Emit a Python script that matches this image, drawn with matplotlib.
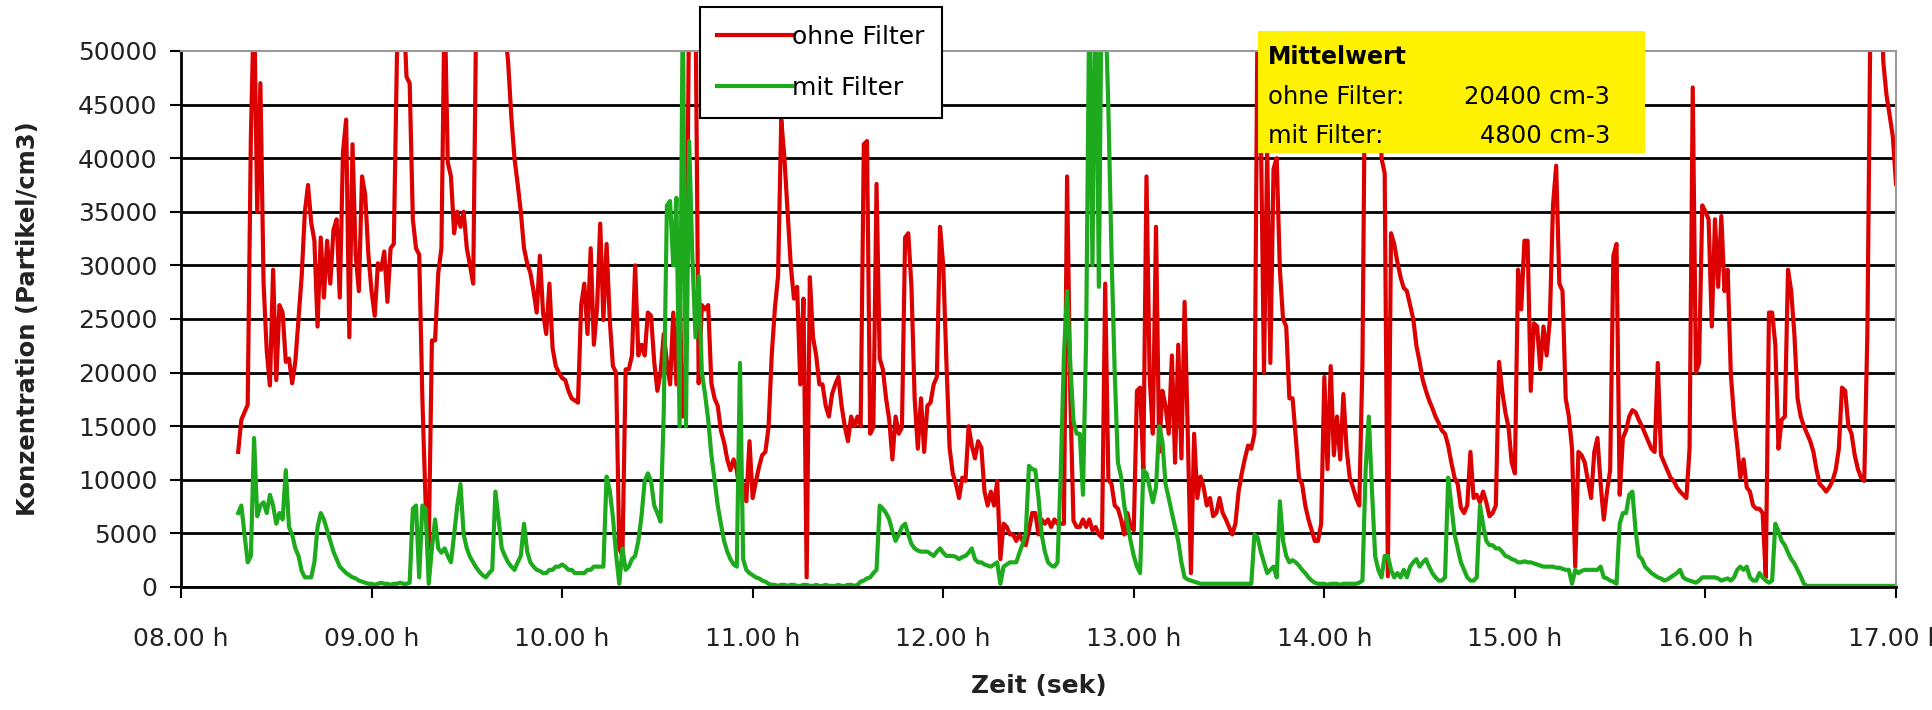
import numpy as np
import matplotlib.pyplot as plt
from matplotlib.patches import Rectangle

# one reading per minute, first reading at 08:18 (minutes after 08:00)
start_min = 18

# Konzentration in 1000 Partikel/cm3 (values above 50 run off the chart)
ohne_filter = [
    12.6, 15.6, 16.3, 17.0, 42, 55, 35, 47, 28.3, 22,
    18.8, 29.6, 19.3, 26.3, 25.6, 21, 21.3, 19, 21, 25,
    29, 35, 37.5, 34, 32.3, 24.3, 32.6, 27, 32.3, 28.3,
    33.3, 34.3, 27, 40.6, 43.6, 23.3, 41.3, 31, 27.6, 38.3,
    36.6, 31, 27.6, 25.3, 30.2, 29.6, 31.3, 26.6, 31.6, 32,
    49.6, 55, 55, 47.6, 47, 34.3, 31.6, 31, 17.6, 8,
    3.6, 23, 23, 29.3, 31.6, 55, 39.6, 38.3, 33, 35,
    33.6, 35, 31.6, 30, 28.3, 55, 60, 60, 60, 60,
    60, 60, 60, 58, 52, 49, 43.9, 40, 37.6, 35,
    31.6, 30.2, 29.3, 27.6, 25.6, 30.9, 25.6, 23.6, 28.3, 22.3,
    20.6, 20, 19.5, 19.3, 18.3, 17.6, 17.4, 17.2, 26.3, 28.3,
    23.6, 31.6, 22.6, 26, 33.9, 24.9, 32, 24.9, 20.6, 20,
    3.6, 2.9, 20.3, 20.3, 21.6, 30, 21.6, 22.6, 21.6, 25.6,
    25.3, 21, 18.3, 20, 23.6, 21, 18.9, 25.6, 18.9, 27.6,
    15.9, 21, 55, 60, 55, 19, 26.3, 25.9, 26.3, 19,
    17.6, 16.9, 14.6, 13.5, 11.9, 10.9, 11.9, 10.9, 8.6, 9.6,
    8, 13.6, 8.3, 9.8, 11.2, 12.3, 12.6, 14.9, 21.6, 26,
    29, 43.6, 40, 35, 30, 26.9, 28, 18.9, 26.9, 0.9,
    28.9, 23.3, 21.6, 18.9, 18.9, 16.9, 15.9, 18, 18.9, 19.6,
    16.9, 15, 13.6, 15.9, 15, 15.9, 15, 41.3, 41.6, 14.3,
    14.9, 37.6, 21.3, 20.3, 17.6, 15.6, 11.9, 15.9, 14.3, 14.9,
    32.6, 33, 28, 17.6, 12.9, 17.6, 12.6, 16.9, 17.2, 18.9,
    19.6, 33.6, 30, 21, 13, 10.6, 9.6, 8.3, 10.2, 9.9,
    15, 13.2, 12, 13.6, 13, 8.9, 7.6, 8.9, 7.6, 9.9,
    2.6, 5.9, 5.6, 4.9, 4.9, 4.3, 4.9, 4.3, 3.9, 5.3,
    6.9, 6.9, 4.9, 6.3, 5.9, 6.3, 5.6, 6.3, 5.9, 5.9,
    5.9, 38.3, 18, 6.2, 5.6, 5.6, 6.3, 5.6, 6.3, 5.3,
    5.6, 4.9, 4.6, 28.3, 10, 9.6, 7.6, 7.3, 6.3, 4.9,
    6.9, 5.6, 5.3, 18.3, 18.6, 11, 38.3, 19.6, 14.3, 33.6,
    12.6, 18.3, 16.9, 14.3, 21.6, 11.6, 22.6, 12, 26.6, 14.3,
    1.3, 14.3, 8.3, 10.3, 9.3, 7.6, 8.3, 6.6, 6.9, 8.3,
    6.9, 6.3, 5.6, 4.9, 5.9, 8.9, 10.6, 12, 13.2, 12.9,
    14.3, 55, 43, 20, 41, 20.9, 39, 40, 29.6, 25,
    24.3, 17.6, 17.6, 14, 10.2, 9.6, 7.6, 6.3, 5.3, 4.3,
    4.3, 5.9, 19.6, 11, 20.6, 12.3, 15.9, 11.9, 18, 12.9,
    10.2, 9.3, 8.3, 7.6, 20.9, 55, 60, 60, 60, 60,
    40, 38.6, 1.0, 33, 32, 30.3, 28.9, 27.9, 27.6, 26.3,
    25, 22.5, 21, 19.3, 18.3, 17.4, 16.7, 15.9, 15.3, 14.6,
    14.3, 13.2, 11.6, 10.2, 9.6, 7.4, 6.9, 7.6, 12.6, 8.3,
    8.6, 7.9, 8.9, 7.9, 6.6, 6.9, 7.6, 21, 18.3, 16.3,
    14.9, 11.6, 10.6, 29.6, 25.9, 32.3, 32.3, 18.3, 24.6, 24.3,
    20.3, 24.3, 21.6, 24.9, 35.6, 39.3, 28.3, 27.6, 17.6, 15.9,
    12.9, 1.9, 12.6, 12.3, 11.6, 9.9, 8.3, 12.6, 13.9, 9.6,
    6.3, 8.9, 10.9, 30.9, 32, 8.6, 13.9, 14.6, 15.9, 16.5,
    16.3, 15.6, 15, 14.3, 13.6, 12.9, 12.6, 20.9, 12.3, 11.6,
    10.9, 10.2, 9.9, 9.3, 8.9, 8.6, 8.3, 12.9, 46.6, 20,
    20.9, 35.6, 35, 34.3, 24.3, 34.3, 28, 34.6, 27.6, 29.6,
    19.8, 15.9, 13.2, 10.2, 11.9, 9.3, 8.9, 7.6, 7.3, 7.3,
    6.9, 0.9, 25.6, 25.6, 22.6, 12.9, 15.6, 15.9, 29.6, 27.6,
    23.6, 17.6, 15.9, 15, 14.3, 13.6, 12.6, 10.9, 9.6, 9.3,
    8.9, 9.3, 9.9, 10.9, 12.9, 18.6, 18.3, 15, 14.3, 12.3,
    11, 10.2, 9.9, 23.9, 55, 60, 60, 60, 49, 45.9,
    44, 42, 37.6,
]

mit_filter = [
    6.9, 7.6, 4.9, 2.3, 2.9, 13.9, 6.6, 7.6, 7.9, 6.9,
    8.6, 7.6, 5.9, 6.9, 6.3, 10.9, 5.6, 4.9, 3.6, 2.9,
    1.5, 0.9, 0.9, 0.9, 2.3, 5.6, 6.9, 6.3, 5.3, 4.3,
    3.3, 2.6, 1.9, 1.6, 1.3, 1.1, 0.9, 0.8, 0.6, 0.5,
    0.4, 0.3, 0.3, 0.2, 0.3, 0.4, 0.3, 0.3, 0.2, 0.3,
    0.3, 0.4, 0.3, 0.3, 0.4, 7.3, 7.6, 0.9, 7.6, 7.3,
    0.3, 3.6, 6.3, 3.6, 3.2, 3.6, 2.9, 2.3, 4.9, 7.6,
    9.6, 4.9, 3.6, 2.8, 2.3, 1.8, 1.4, 1.1, 0.9, 1.3,
    1.6, 8.9, 6.3, 3.6, 2.9, 2.3, 1.9, 1.6, 2.3, 2.9,
    5.9, 3.3, 2.3, 1.9, 1.6, 1.5, 1.3, 1.3, 1.6, 1.6,
    1.9, 1.9, 2.1, 1.9, 1.6, 1.6, 1.3, 1.3, 1.3, 1.3,
    1.6, 1.6, 1.9, 1.9, 1.9, 1.9, 10.3, 9, 6.5, 3,
    0.3, 3.6, 1.6, 1.9, 2.6, 2.9, 4.3, 6.6, 9.9, 10.6,
    9.9, 7.6, 6.9, 6.1, 16.3, 35.6, 36, 30, 36.3, 15,
    55, 15, 41.6, 30.9, 23.3, 29, 20, 18, 15.6, 12.3,
    10, 7.6, 5.9, 4.3, 3.3, 2.6, 2.1, 1.9, 20.9, 2.6,
    1.6, 1.3, 1.1, 0.9, 0.8, 0.6, 0.5, 0.3, 0.2, 0.2,
    0.1, 0.2, 0.2, 0.1, 0.2, 0.2, 0.1, 0.1, 0.2, 0.2,
    0.1, 0.1, 0.2, 0.1, 0.1, 0.2, 0.1, 0.1, 0.1, 0.2,
    0.1, 0.1, 0.2, 0.2, 0.1, 0.2, 0.5, 0.6, 0.8, 0.9,
    1.3, 1.6, 7.6, 7.3, 6.9, 6.3, 5.2, 4.3, 4.9, 5.6,
    5.9, 4.9, 4, 3.6, 3.4, 3.3, 3.3, 3.3, 3.1, 2.9,
    3.3, 3.6, 3.2, 2.9, 2.9, 2.9, 2.8, 2.6, 2.8, 2.9,
    3.2, 3.6, 2.6, 2.3, 2.3, 2.1, 2.0, 1.9, 2.1, 2.3,
    0.3, 1.9, 2.1, 2.3, 2.3, 2.3, 3.2, 4, 5, 11.3,
    11, 10.9, 8.3, 4.9, 3.3, 2.3, 2, 1.9, 2.3, 10.6,
    21.6, 27.6, 20.9, 15.5, 14.3, 14.3, 8.6, 23.3, 55, 30,
    60, 28, 60, 55, 44.6, 30.9, 20, 11.6, 10.3, 7.6,
    5.9, 4.3, 2.9, 1.9, 1.3, 10.9, 10.6, 9.3, 7.9, 9.3,
    15, 13.6, 9.6, 8.3, 6.9, 5.6, 4.3, 2.3, 0.9, 0.7,
    0.6, 0.5, 0.4, 0.3, 0.3, 0.3, 0.3, 0.3, 0.3, 0.3,
    0.3, 0.3, 0.3, 0.3, 0.3, 0.3, 0.3, 0.3, 0.3, 0.3,
    4.9, 4.6, 3.3, 2.3, 1.3, 1.6, 1.9, 0.9, 8, 4.3,
    2.9, 2.3, 2.5, 2.3, 2.0, 1.6, 1.3, 0.9, 0.6, 0.4,
    0.3, 0.3, 0.3, 0.2, 0.3, 0.3, 0.3, 0.2, 0.3, 0.3,
    0.3, 0.3, 0.3, 0.4, 0.6, 10.9, 15.9, 9, 2.9, 1.6,
    0.9, 2.9, 2.9, 1.6, 0.9, 1.3, 0.9, 1.6, 0.9, 1.9,
    2.3, 2.6, 1.9, 2.3, 2.6, 1.9, 1.3, 0.9, 0.6, 0.6,
    0.9, 10.2, 7.6, 4.9, 3.6, 2.3, 1.6, 0.9, 0.6, 0.6,
    0.9, 7.6, 5.8, 4.3, 3.9, 3.9, 3.6, 3.6, 3.3, 2.9,
    2.8, 2.6, 2.5, 2.3, 2.3, 2.4, 2.3, 2.3, 2.2, 2.1,
    2.0, 1.9, 1.9, 1.9, 1.9, 1.8, 1.8, 1.7, 1.6, 1.6,
    0.3, 1.6, 1.3, 1.5, 1.6, 1.6, 1.6, 1.6, 1.6, 1.9,
    0.9, 0.8, 0.6, 0.5, 0.3, 5.9, 6.9, 6.9, 8.6, 8.9,
    5.3, 2.9, 2.6, 1.9, 1.6, 1.3, 1.1, 0.9, 0.8, 0.6,
    0.7, 0.9, 1.1, 1.3, 1.6, 0.9, 0.7, 0.6, 0.5, 0.4,
    0.6, 0.9, 0.9, 0.9, 0.9, 0.9, 0.8, 0.6, 0.7, 0.8,
    0.6, 0.9, 1.6, 1.9, 1.6, 1.9, 0.9, 0.6, 0.6, 1.3,
    0.9, 0.6, 0.4, 0.6, 5.9, 5.2, 4.3, 3.9, 3.2, 2.6,
    2.2, 1.6, 1.0, 0.3, 0.1, 0.1, 0.1, 0.1, 0.1, 0.1,
    0.1, 0.1, 0.1, 0.1, 0.1, 0.1, 0.1, 0.1, 0.1, 0.1,
    0.1, 0.1, 0.1, 0.1, 0.1, 0.1, 0.1, 0.1, 0.1, 0.1,
    0.1, 0.1, 0.1,
]

hour_ticks = list(range(8, 18))
hour_labels = [f"{h:02d}.00 h" for h in hour_ticks]
y_ticks = list(range(0, 50001, 5000))

mittel_ohne = 20400
mittel_mit = 4800

plt.rcParams['font.family'] = ['DejaVu Sans']

W, H = 1933, 710
fig = plt.figure(figsize=(W / 100, H / 100), dpi=100)
ax = fig.add_axes([181 / W, 1 - 587 / H, (1896 - 181) / W, (587 - 51) / H])

t_ohne = 8 + (start_min + np.arange(len(ohne_filter))) / 60
t_mit = 8 + (start_min + np.arange(len(mit_filter))) / 60
ax.plot(t_ohne, np.array(ohne_filter) * 1000, color='#DD0000', lw=3.0, label='ohne Filter')
ax.plot(t_mit, np.array(mit_filter) * 1000, color='#1DAA1D', lw=3.0, label='mit Filter')

ax.set_xlim(8, 17)
ax.set_ylim(0, 50000)
ax.set_xticks(hour_ticks)
ax.set_xticklabels(hour_labels)
ax.set_yticks(y_ticks)
ax.tick_params(axis='both', direction='out', length=8, width=1.5, labelsize=18,
               color='black', labelcolor='#222222')
ax.tick_params(axis='x', pad=21)
ax.tick_params(axis='y', pad=9)

ax.set_axisbelow(True)
ax.yaxis.grid(True, color='black', lw=2)
ax.yaxis.get_gridlines()[-1].set_visible(False)
for s in ['top', 'right']:
    ax.spines[s].set_color('#9a9a9a')
    ax.spines[s].set_linewidth(1.5)
for s in ['left', 'bottom']:
    ax.spines[s].set_color('black')
    ax.spines[s].set_linewidth(2)

ax.set_ylabel('Konzentration (Partikel/cm3)', fontsize=17.5, fontweight='bold', color='#222222')
ax.yaxis.set_label_coords(-0.082, 0.5)
ax.set_xlabel('Zeit (sek)', fontsize=18, fontweight='bold', color='#222222')
ax.xaxis.set_label_coords(0.5, -0.163)

leg = ax.legend(loc='upper left', bbox_to_anchor=(700 / W, 1 - 7 / H),
                bbox_transform=fig.transFigure, frameon=True, fancybox=False,
                edgecolor='black', framealpha=1, fontsize=18, handlelength=3.0,
                handletextpad=0.0, borderpad=0.7, labelspacing=1.1, borderaxespad=0)
leg.get_frame().set_linewidth(1.5)

# Mittelwert box
fig.add_artist(Rectangle((1258 / W, 1 - 153 / H), (1645 - 1258) / W, (153 - 31) / H,
                         transform=fig.transFigure, facecolor='#FFF200',
                         edgecolor='none', zorder=3))
fig.text(1268 / W, 1 - 57 / H, 'Mittelwert', fontsize=17, fontweight='bold',
         va='center', zorder=4)
fig.text(1268 / W, 1 - 97 / H, 'ohne Filter:', fontsize=17.5, va='center', zorder=4)
fig.text(1610 / W, 1 - 97 / H, f'{mittel_ohne} cm-3', fontsize=17.5, va='center',
         ha='right', zorder=4)
fig.text(1268 / W, 1 - 136 / H, 'mit Filter:', fontsize=17.5, va='center', zorder=4)
fig.text(1610 / W, 1 - 136 / H, f'{mittel_mit} cm-3', fontsize=17.5, va='center',
         ha='right', zorder=4)

fig.savefig('out.png', dpi=100)
